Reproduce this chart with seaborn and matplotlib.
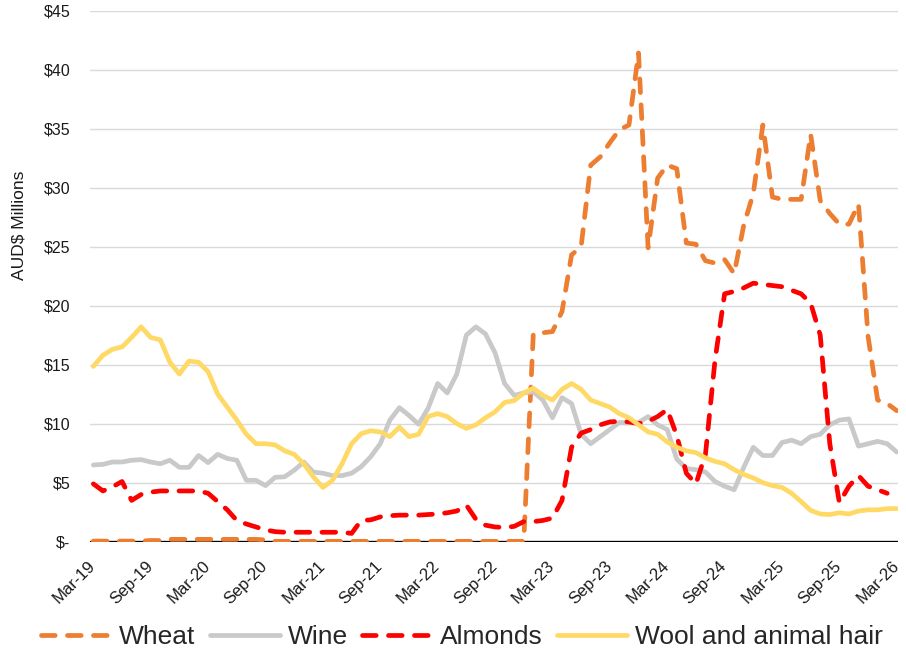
import numpy as np
import pandas as pd
import matplotlib
matplotlib.use("Agg")
import matplotlib.pyplot as plt
import matplotlib.transforms as mtransforms
import seaborn as sns

# Monthly export values, AUD$ millions, Mar-19 .. Mar-26
months = pd.date_range("2019-03-01", "2026-03-01", freq="MS").strftime("%b-%y").tolist()

wheat = [0.05, 0.05, 0.05, 0.05, 0.05, 0.05, 0.1, 0.1, 0.2, 0.2, 0.2, 0.2,
         0.2, 0.2, 0.2, 0.2, 0.2, 0.2, 0.15, 0.03, 0.03, 0.03, 0.03, 0.03,
         0.03, 0.03, 0.03, 0.03, 0.03, 0.03, 0.03, 0.03, 0.03, 0.03, 0.03, 0.03,
         0.03, 0.03, 0.03, 0.03, 0.03, 0.03, 0.03, 0.03, 0.03, 0.03, 17.6, 17.7,
         17.8, 19.5, 24.3, 25.0, 31.9, 32.6, 33.8, 34.9, 35.3, 41.4, 24.9, 30.8,
         31.9, 31.6, 25.3, 25.2, 23.8, 23.6, 23.9, 22.7, 26.8, 29.5, 35.3, 29.2,
         29.0, 29.0, 29.0, 34.5, 28.9, 27.8, 26.9, 26.9, 28.6, 17.4, 12.0, 11.7,
         11.1]

wine = [6.5, 6.55, 6.75, 6.75, 6.9, 6.95, 6.75, 6.6, 6.9, 6.3, 6.3, 7.3,
        6.7, 7.4, 7.05, 6.9, 5.2, 5.2, 4.75, 5.45, 5.5, 6.05, 6.75, 5.9,
        5.8, 5.6, 5.6, 5.8, 6.35, 7.2, 8.3, 10.3, 11.35, 10.7, 9.95, 11.3,
        13.4, 12.6, 14.2, 17.5, 18.2, 17.6, 16.0, 13.4, 12.4, 12.6, 12.7, 12.0,
        10.5, 12.2, 11.7, 9.1, 8.3, 8.9, 9.5, 10.1, 10.05, 10.1, 10.6, 9.9,
        9.5, 7.0, 6.2, 6.1, 5.9, 5.1, 4.7, 4.4, 6.3, 8.0, 7.3, 7.3,
        8.4, 8.6, 8.3, 8.9, 9.1, 9.9, 10.3, 10.4, 8.1, 8.3, 8.5, 8.3,
        7.6]

almonds = [4.9, 4.3, 4.65, 5.1, 3.5, 4.0, 4.2, 4.3, 4.3, 4.3, 4.3, 4.3,
           4.1, 3.4, 2.7, 1.8, 1.5, 1.25, 1.0, 0.85, 0.8, 0.8, 0.8, 0.8,
           0.8, 0.8, 0.8, 0.7, 1.8, 1.85, 2.1, 2.2, 2.25, 2.25, 2.25, 2.3,
           2.35, 2.45, 2.6, 3.1, 1.9, 1.4, 1.25, 1.2, 1.3, 1.7, 1.7, 1.8,
           2.0, 3.5, 8.0, 9.2, 9.5, 9.9, 10.15, 10.2, 10.15, 10.0, 10.2, 10.6,
           11.2, 9.0, 5.8, 4.9, 7.4, 15.4, 21.0, 21.2, 21.5, 21.9, 21.8, 21.7,
           21.6, 21.3, 21.0, 20.2, 17.5, 8.3, 3.3, 4.7, 5.6, 4.7, 4.4, 4.1,
           np.nan]

wool = [14.85, 15.8, 16.3, 16.5, 17.3, 18.2, 17.3, 17.1, 15.2, 14.2, 15.3, 15.2,
        14.4, 12.5, 11.4, 10.3, 9.1, 8.3, 8.3, 8.2, 7.7, 7.4, 6.6, 5.5,
        4.6, 5.2, 6.6, 8.3, 9.15, 9.4, 9.3, 8.9, 9.7, 8.9, 9.1, 10.6,
        10.85, 10.6, 10.0, 9.6, 9.9, 10.5, 11.0, 11.8, 11.95, 12.6, 13.0, 12.4,
        12.0, 12.9, 13.4, 12.9, 12.0, 11.7, 11.4, 10.85, 10.5, 9.9, 9.3, 9.1,
        8.45, 8.0, 7.7, 7.55, 7.1, 6.8, 6.6, 6.1, 5.7, 5.4, 5.0, 4.75,
        4.6, 4.1, 3.4, 2.65, 2.35, 2.3, 2.45, 2.35, 2.6, 2.7, 2.7, 2.8,
        2.8]

y_ticks = [0, 5, 10, 15, 20, 25, 30, 35, 40, 45]
y_labels = ["$-", "$5", "$10", "$15", "$20", "$25", "$30", "$35", "$40", "$45"]

sns.set_style("white")
plt.rcParams["font.family"] = ["Liberation Sans", "DejaVu Sans"]

fig = plt.figure(figsize=(9.06, 6.49), dpi=100)
ax = fig.add_axes([90 / 906, 1 - 541.7 / 649, 808 / 906, 531.2 / 649])

x = np.arange(len(months))
dash = (0, (2.9, 2.6))
series = [
    ("Wheat", wheat, "#ED7D31", dash, 2),
    ("Wine", wine, "#C9C9C9", "-", 3),
    ("Almonds", almonds, "#FF0000", dash, 4),
    ("Wool and animal hair", wool, "#FFD966", "-", 5),
]
for name, vals, color, ls, z in series:
    sns.lineplot(x=x, y=vals, ax=ax, color=color, linewidth=3.4, linestyle=ls,
                 label=name, zorder=z, dash_capstyle="round", solid_capstyle="round",
                 solid_joinstyle="round", dash_joinstyle="round")

ax.axhline(0, color="black", linewidth=2.4, zorder=1.8)
ax.set_xlim(-0.35, 84.13)
ax.set_ylim(0, 45)
ax.set_yticks(y_ticks)
ax.set_yticklabels(y_labels)
ax.set_xticks(x[::6])
ax.set_xticklabels(months[::6])
ax.tick_params(axis="x", length=0, pad=12, labelsize=12, labelcolor="#1a1a1a")
ax.tick_params(axis="y", length=0, pad=14, labelsize=11.5, labelcolor="#1a1a1a")

# nudge the rotated month labels a few pixels right, like the original
shift = mtransforms.ScaledTranslation(5 / 100, 0, fig.dpi_scale_trans)
for lab in ax.get_xticklabels():
    lab.set_rotation(45)
    lab.set_ha("right")
    lab.set_transform(lab.get_transform() + shift)

ax.yaxis.grid(True, color="#D9D9D9", linewidth=1.0)
ax.xaxis.grid(False)
ax.set_axisbelow(True)
for s in ax.spines.values():
    s.set_visible(False)

ax.set_xlabel("")
ax.set_ylabel(r"AUD\$ Millions", fontsize=12.5, color="#1a1a1a")
ax.yaxis.set_label_coords(-0.078, 0.596)

handles, labels = ax.get_legend_handles_labels()
ax.get_legend().remove()
fig.legend(handles, labels, loc="center", bbox_to_anchor=(462 / 906, 1 - 637 / 649),
           ncol=4, frameon=False, fontsize=19, handlelength=2.65, handletextpad=0.3,
           columnspacing=0.55)

fig.savefig("out.png", dpi=100)
